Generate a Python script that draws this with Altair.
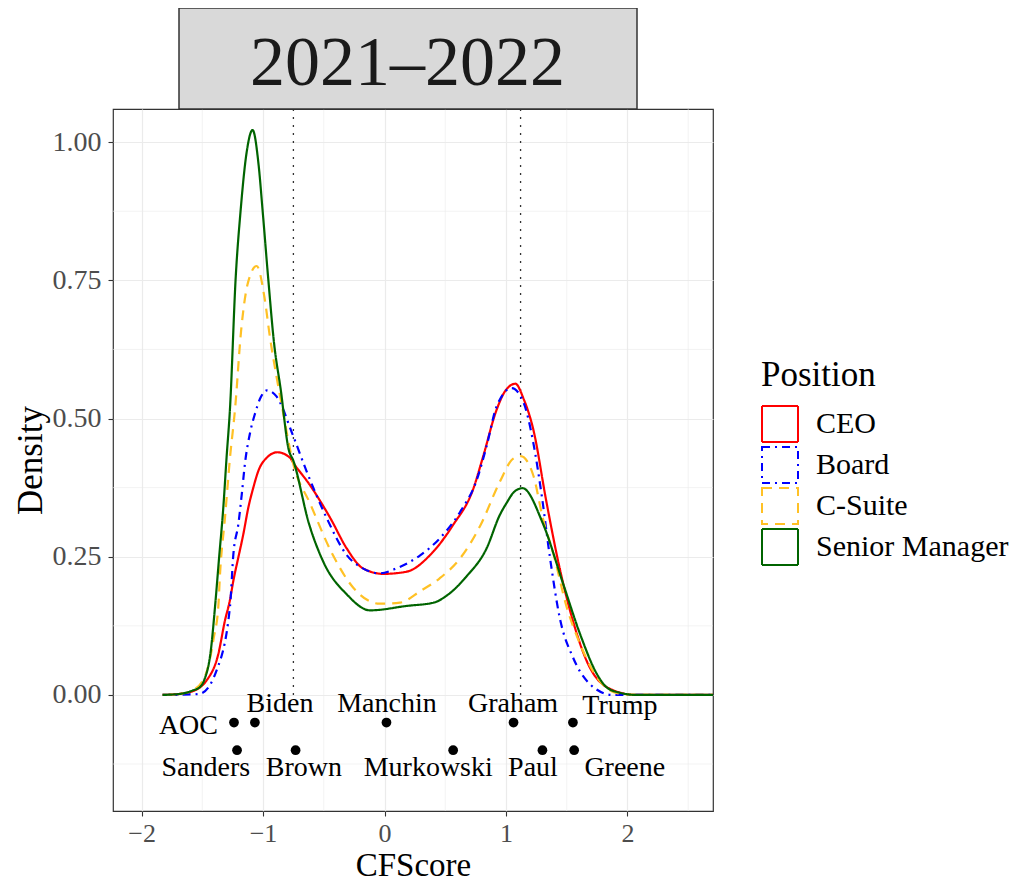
import altair as alt
import pandas as pd

FONT = "Liberation Serif"

strip_label = "2021–2022"
positions = ["CEO", "Board", "C-Suite", "Senior Manager"]
colors = ["#FF0000", "#0000FF", "#FFC125", "#006400"]
dashes = [[1, 0], [8, 5, 2, 5], [10, 7], [1, 0]]

ceo_x = [-1.827, -1.679, -1.600, -1.462, -1.368, -1.314, -1.272, -1.244, -1.203, -1.162, -1.121, -1.080,
         -1.039, -0.970, -0.882, -0.778, -0.751, -0.612, -0.444, -0.311, -0.178, -0.010, 0.183, 0.375,
         0.563, 0.731, 0.810, 0.923, 0.988, 1.077, 1.146, 1.225, 1.333, 1.442, 1.551, 1.689, 1.887,
         2.074, 2.704]
ceo_y = [0, 0.002, 0.005, 0.027, 0.074, 0.134, 0.172, 0.207, 0.249, 0.291, 0.339, 0.375,
         0.405, 0.429, 0.439, 0.429, 0.420, 0.379, 0.319, 0.265, 0.229, 0.219, 0.223, 0.253,
         0.307, 0.373, 0.430, 0.516, 0.548, 0.563, 0.535, 0.480, 0.349, 0.229, 0.134, 0.050, 0.008,
         0, 0]

board_x = [-1.827, -1.580, -1.521, -1.383, -1.272, -1.244, -1.203, -1.175, -1.148, -1.107, -1.066, -1.020,
           -0.968, -0.889, -0.751, -0.642, -0.474, -0.311, -0.178, -0.040, 0.099, 0.296, 0.454, 0.622,
           0.761, 0.840, 0.923, 1.047, 1.146, 1.225, 1.294, 1.363, 1.442, 1.551, 1.689, 1.877, 2.704]
board_y = [0, 0.001, 0.002, 0.044, 0.160, 0.255, 0.309, 0.363, 0.420, 0.474, 0.509, 0.538,
           0.551, 0.540, 0.468, 0.405, 0.319, 0.253, 0.229, 0.220, 0.229, 0.253, 0.283, 0.331,
           0.390, 0.450, 0.522, 0.555, 0.528, 0.456, 0.361, 0.247, 0.140, 0.068, 0.020, 0, 0]

csuite_x = [-1.827, -1.679, -1.580, -1.470, -1.405, -1.368, -1.354, -1.313, -1.272, -1.230, -1.180, -1.125,
            -1.052, -0.988, -0.943, -0.889, -0.849, -0.751, -0.612, -0.425, -0.257, -0.040, 0.128, 0.296,
            0.454, 0.622, 0.790, 0.948, 1.057, 1.121, 1.225, 1.304, 1.393, 1.501, 1.610, 1.748, 1.936,
            2.074, 2.704]
csuite_y = [0, 0.002, 0.008, 0.038, 0.104, 0.160, 0.219, 0.321, 0.429, 0.518, 0.660, 0.745,
            0.776, 0.719, 0.647, 0.576, 0.528, 0.418, 0.346, 0.253, 0.194, 0.165, 0.167, 0.188,
            0.211, 0.247, 0.307, 0.385, 0.427, 0.432, 0.397, 0.319, 0.253, 0.158, 0.092, 0.032, 0.002,
            0, 0]

sm_x = [-1.827, -1.679, -1.580, -1.521, -1.482, -1.430, -1.395, -1.361, -1.327, -1.300, -1.272, -1.225,
        -1.185, -1.136, -1.086, -1.037, -1.003, -0.958, -0.909, -0.854, -0.790, -0.751, -0.622, -0.504,
        -0.311, -0.119, 0.183, 0.405, 0.514, 0.677, 0.840, 0.948, 1.007, 1.070, 1.136, 1.304, 1.472,
        1.610, 1.748, 1.827, 1.936, 2.074, 2.704]
sm_y = [0, 0.002, 0.008, 0.014, 0.028, 0.080, 0.160, 0.250, 0.339, 0.430, 0.518, 0.755,
        0.875, 0.980, 1.022, 0.960, 0.875, 0.755, 0.636, 0.552, 0.445, 0.424, 0.310, 0.241,
        0.182, 0.153, 0.161, 0.167, 0.180, 0.215, 0.265, 0.325, 0.348, 0.368, 0.374, 0.310, 0.200,
        0.110, 0.038, 0.014, 0.004, 0, 0]

politicians = ["AOC", "Biden", "Manchin", "Graham", "Trump",
               "Sanders", "Brown", "Murkowski", "Paul", "Greene"]
pol_x = [-1.239, -1.067, 0.016, 1.062, 1.551, -1.214, -0.732, 0.565, 1.300, 1.561]
pol_y = [-0.05, -0.05, -0.05, -0.05, -0.05, -0.10, -0.10, -0.10, -0.10, -0.10]
label_x = [-1.614, -0.860, 0.020, 1.058, 1.938, -1.471, -0.664, 0.360, 1.222, 1.978]
label_y = [-0.071, -0.031, -0.031, -0.031, -0.035, -0.146, -0.146, -0.146, -0.146, -0.146]

vline_x = [-0.75, 1.12]
minor_x = [-1.5, -0.5, 0.5, 1.5, 2.5]
minor_y = [-0.125, 0.125, 0.375, 0.625, 0.875]
x_ticks = [-2, -1, 0, 1, 2]
y_ticks = [0, 0.25, 0.5, 0.75, 1.0]

rows = []
for name, xs, ys in [("CEO", ceo_x, ceo_y), ("Board", board_x, board_y),
                     ("C-Suite", csuite_x, csuite_y), ("Senior Manager", sm_x, sm_y)]:
    for xv, yv in zip(xs, ys):
        rows.append({"Position": name, "CFScore": xv, "Density": yv})
dens = pd.DataFrame(rows)

pol = pd.DataFrame({"name": politicians, "px": pol_x, "py": pol_y, "lx": label_x, "ly": label_y})

xscale = alt.Scale(domain=[-2.235, 2.704], nice=False, zero=False)
yscale = alt.Scale(domain=[-0.210, 1.060], nice=False, zero=False)

xaxis = alt.Axis(values=x_ticks, format="d", title="CFScore", titleFontSize=33, labelFontSize=26,
                 tickSize=5, labelPadding=4, titlePadding=3.5, grid=True, domain=False)
yaxis = alt.Axis(values=y_ticks, format=".2f", title="Density", titleFontSize=35, labelFontSize=28,
                 tickSize=5, labelPadding=7, titlePadding=4, grid=True, domain=False)

legend_kw = dict(title="Position", orient="none", legendX=648, legendY=249,
                 symbolType="square", symbolSize=1296, symbolStrokeWidth=2,
                 symbolFillColor="white", titleFontSize=35, labelFontSize=30, labelOffset=17,
                 labelLimit=0, rowPadding=-3.5, titlePadding=12, padding=0)

minor_v = alt.Chart(pd.DataFrame({"m": minor_x})).mark_rule(color="#EBEBEB", strokeWidth=0.6).encode(
    x=alt.X("m:Q", scale=xscale, axis=xaxis))
minor_h = alt.Chart(pd.DataFrame({"m": minor_y})).mark_rule(color="#EBEBEB", strokeWidth=0.6).encode(
    y=alt.Y("m:Q", scale=yscale, axis=yaxis))

vlines = alt.Chart(pd.DataFrame({"v": vline_x})).mark_rule(
    color="#333333", strokeWidth=1.3, strokeDash=[2, 6]).encode(
    x=alt.X("v:Q", scale=xscale), y=alt.datum(0), y2=alt.value(0))

lines = alt.Chart(dens).mark_line(strokeWidth=2.2, interpolate="monotone").encode(
    x=alt.X("CFScore:Q", scale=xscale),
    y=alt.Y("Density:Q", scale=yscale),
    color=alt.Color("Position:N", scale=alt.Scale(domain=positions, range=colors),
                    legend=alt.Legend(**legend_kw)),
    strokeDash=alt.StrokeDash("Position:N", scale=alt.Scale(domain=positions, range=dashes),
                              legend=alt.Legend(**legend_kw)),
)

points = alt.Chart(pol).mark_circle(color="black", size=95, opacity=1).encode(
    x=alt.X("px:Q", scale=xscale), y=alt.Y("py:Q", scale=yscale))

labels = alt.Chart(pol).mark_text(fontSize=28, baseline="alphabetic", align="center", color="black").encode(
    x=alt.X("lx:Q", scale=xscale), y=alt.Y("ly:Q", scale=yscale), text="name:N")

strip_df = pd.DataFrame({"strip": [strip_label]})
strip_box = alt.Chart(strip_df).mark_rect(fill="#D9D9D9", stroke="#333333", strokeWidth=1.5).encode(
    x=alt.value(66), x2=alt.value(524), y=alt.value(-101), y2=alt.value(0))
strip_text = alt.Chart(strip_df).mark_text(fontSize=70, baseline="alphabetic", align="center",
                                           color="#1A1A1A").encode(
    x=alt.value(294.5), y=alt.value(-24), text="strip:N")

chart = alt.layer(minor_v, minor_h, vlines, lines, points, labels, strip_box, strip_text).properties(
    width=600, height=702,
    autosize=alt.AutoSizeParams(type="none"),
    padding={"left": 105, "top": 101, "right": 298, "bottom": 74},
).configure(font=FONT).configure_view(
    stroke="#333333", strokeWidth=1.2
).configure_axis(
    labelFont=FONT, titleFont=FONT, labelColor="#4D4D4D", titleColor="black",
    titleFontWeight="normal", tickColor="#333333", tickWidth=1.1,
    gridColor="#EBEBEB", gridWidth=1.2
).configure_legend(
    labelFont=FONT, titleFont=FONT, titleFontWeight="normal", titleColor="black", labelColor="black"
).configure_text(font=FONT)

chart.save("out.html", embed_options={"renderer": "svg", "actions": False})
